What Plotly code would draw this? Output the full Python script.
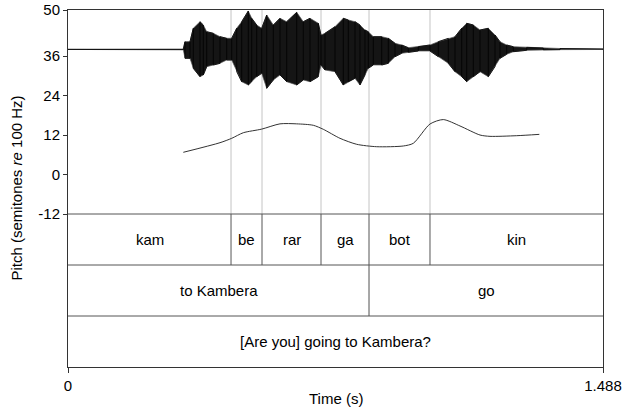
import plotly.graph_objects as go

# ---------------- data ----------------
# waveform envelope (plotted in semitone units as in the original overlay)
wave_t = [0.0, 0.3207, 0.3254, 0.3393, 0.3485, 0.3671, 0.3763, 0.3858, 0.4041, 0.4228,
          0.4414, 0.4553, 0.4692, 0.4831, 0.5015, 0.5109, 0.5248, 0.5387, 0.5527, 0.5710,
          0.5896, 0.6083, 0.6361, 0.6544, 0.6731, 0.6962, 0.7037, 0.7148, 0.7426, 0.7657,
          0.7796, 0.7982, 0.8121, 0.8260, 0.8352, 0.8491, 0.8725, 0.8909, 0.9095, 0.9281,
          0.9465, 0.9743, 1.0068, 1.0299, 1.0577, 1.0764, 1.0950, 1.1089, 1.1273, 1.1459,
          1.1690, 1.1876, 1.2015, 1.2202, 1.2385, 1.2758, 1.3219, 1.3684, 1.488]
wave_upper = [38.1, 38.15, 40.37, 40.4, 44.44, 46.44, 45.44, 43.40, 42.92, 41.89,
              41.40, 41.40, 44.44, 46.44, 49.70, 47.48, 45.44, 44.44, 48.48, 45.44,
              47.48, 46.44, 49.30, 46.44, 47.48, 45.96, 42.40, 42.92, 44.92, 47.48,
              46.96, 46.44, 45.44, 43.92, 43.40, 41.89, 41.89, 41.40, 39.88, 39.36,
              38.54, 38.85, 39.36, 40.37, 41.40, 41.89, 44.44, 45.96, 45.44, 43.92,
              44.44, 42.40, 40.37, 39.36, 38.85, 38.65, 38.45, 38.3, 38.15]
wave_lower = [38.0, 37.95, 35.32, 35.32, 32.28, 29.73, 30.25, 32.77, 33.28, 33.80,
              34.80, 34.80, 31.25, 28.21, 27.21, 28.21, 29.73, 30.76, 26.20, 28.73,
              30.25, 28.21, 27.21, 28.73, 28.21, 29.73, 33.28, 31.76, 31.25, 27.21,
              28.21, 29.24, 27.21, 30.25, 32.28, 33.28, 33.28, 33.80, 35.81, 36.84,
              37.14, 37.54, 37.54, 35.81, 33.80, 31.25, 29.73, 28.21, 29.73, 31.25,
              29.73, 32.77, 35.32, 36.54, 37.33, 37.75, 37.9, 37.95, 38.0]

# pitch contour (semitones re 100 Hz)
pitch_t = [0.3207, 0.4228, 0.4553, 0.4876, 0.5388, 0.5896, 0.6361, 0.6823, 0.7101, 0.7565,
           0.8030, 0.8586, 0.9326, 0.9604, 1.0068, 1.0438, 1.0903, 1.1459, 1.1737, 1.2480,
           1.3109]
pitch_st = [6.75, 9.67, 11.0, 12.7, 13.8, 15.4, 15.4, 14.96, 13.74, 11.0,
            9.18, 8.45, 8.67, 9.49, 15.35, 16.7, 14.75, 12.0, 11.6, 11.8,
            12.2]

# text grid
t_end = 1.488
syll_bounds = [0.4534, 0.5396, 0.7037, 0.8372, 1.0068]
syllables = ["kam", "be", "rar", "ga", "bot", "kin"]
phrase_bounds = [0.8372]
phrases = ["to Kambera", "go"]
sentence = "[Are you] going to Kambera?"

y_ticks = [-12, 0, 12, 24, 36, 50]
x_ticks = [0, 1.488]
x_ticklabels = ["0", "1.488"]

# ---------------- layout constants ----------------
ymax = 50
ymin_pitch = -12
tier_h = 15.5
tier_tops = [ymin_pitch - i * tier_h for i in range(3)]
ybot = ymin_pitch - 3 * tier_h

FONT = "Liberation Sans, Arial, sans-serif"
fig = go.Figure()

# waveform as filled envelope
fig.add_trace(go.Scatter(
    x=wave_t + wave_t[::-1], y=wave_upper + wave_lower[::-1],
    fill="toself", fillcolor="#151515", mode="lines",
    line=dict(color="#555555", width=0.7), hoverinfo="skip", showlegend=False))
# zig-zag through the envelope samples for the waveform texture
zz_x, zz_y = [], []
for i, t in enumerate(wave_t):
    zz_x += [t, t]
    zz_y += [wave_upper[i], wave_lower[i]] if i % 2 == 0 else [wave_lower[i], wave_upper[i]]
fig.add_trace(go.Scatter(x=zz_x, y=zz_y, mode="lines",
                         line=dict(color="#000000", width=0.8),
                         hoverinfo="skip", showlegend=False))

# pitch contour
fig.add_trace(go.Scatter(
    x=pitch_t, y=pitch_st, mode="lines",
    line=dict(color="#333333", width=1, shape="spline", smoothing=0.7),
    showlegend=False))

shapes = []
# vertical boundaries in the pitch area
for b in syll_bounds:
    shapes.append(dict(type="line", xref="x", yref="y", x0=b, x1=b, y0=ymin_pitch, y1=ymax,
                       line=dict(color="#c4c4c4", width=1), layer="below"))
    shapes.append(dict(type="line", xref="x", yref="y", x0=b, x1=b,
                       y0=tier_tops[0] - tier_h, y1=tier_tops[0],
                       line=dict(color="#555555", width=1)))
for b in phrase_bounds:
    shapes.append(dict(type="line", xref="x", yref="y", x0=b, x1=b,
                       y0=tier_tops[1] - tier_h, y1=tier_tops[1],
                       line=dict(color="#8a8a8a", width=1.5)))
# tier horizontal lines
for yt in tier_tops:
    shapes.append(dict(type="line", xref="x", yref="y", x0=0, x1=t_end, y0=yt, y1=yt,
                       line=dict(color="#555555", width=1)))

annotations = []
def add_tier(bounds, labels, ytop):
    edges = [0] + bounds + [t_end]
    for i, lab in enumerate(labels):
        annotations.append(dict(x=(edges[i] + edges[i + 1]) / 2, y=ytop - tier_h / 2,
                                xref="x", yref="y", text=lab, showarrow=False,
                                font=dict(family=FONT, size=15, color="black")))
add_tier(syll_bounds, syllables, tier_tops[0])
add_tier(phrase_bounds, phrases, tier_tops[1])
add_tier([], [sentence], tier_tops[2])

annotations.append(dict(x=0, y=0.5, xref="paper", yref="paper", xshift=-52,
                        xanchor="center", yanchor="middle",
                        text="Pitch (semitones <i>re</i> 100 Hz)", textangle=-90,
                        showarrow=False, font=dict(family=FONT, size=15, color="black")))
annotations.append(dict(x=0.5, y=0, xref="paper", yref="paper", yshift=-31,
                        text="Time (s)", showarrow=False, yanchor="middle",
                        font=dict(family=FONT, size=15, color="black")))

fig.update_layout(
    width=624, height=409, autosize=False,
    margin=dict(l=68, r=21, t=10, b=42),
    paper_bgcolor="white", plot_bgcolor="white",
    shapes=shapes, annotations=annotations,
    font=dict(family=FONT, size=15, color="black"),
    xaxis=dict(range=[0, t_end], tickvals=x_ticks, ticktext=x_ticklabels,
               showgrid=False, zeroline=False, showline=True, mirror=True, automargin=False,
               linecolor="#333333", linewidth=1, ticks="outside", ticklen=5,
               tickcolor="#333333", tickfont=dict(family=FONT, size=15, color="black")),
    yaxis=dict(range=[ybot, ymax], tickvals=y_ticks, ticktext=[str(v) for v in y_ticks],
               showgrid=False, zeroline=False, showline=True, mirror=True, automargin=False,
               linecolor="#333333", linewidth=1, ticks="outside", ticklen=4,
               tickcolor="#333333", tickfont=dict(family=FONT, size=15, color="black")),
)

fig.write_html("out.html")
